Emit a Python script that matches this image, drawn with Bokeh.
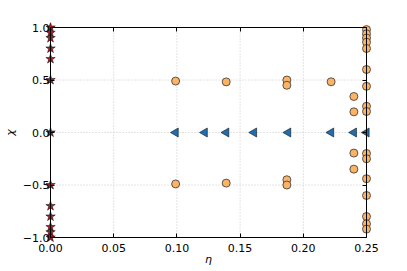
import math
from bokeh.plotting import figure
from bokeh.models import Range1d, FixedTicker, LinearAxis
from bokeh.embed import file_html
from bokeh.resources import INLINE

# ---- data ----
star_eta = [0.0] * 13
star_chi = [1.0, 0.95, 0.9, 0.8, 0.7, 0.5, 0.0, -0.5, -0.7, -0.8, -0.9, -0.95, -1.0]

tri_eta = [0.099, 0.122, 0.139, 0.161, 0.188, 0.222, 0.240, 0.250]
tri_chi = [0.0, 0.0, 0.0, 0.0, 0.0, 0.0, 0.0, 0.0]

circ_eta = [0.099, 0.099, 0.139, 0.139, 0.187, 0.187, 0.187, 0.187, 0.222,
            0.240, 0.240, 0.240, 0.240,
            0.25, 0.25, 0.25, 0.25, 0.25, 0.25, 0.25, 0.25, 0.25,
            0.25, 0.25, 0.25, 0.25, 0.25, 0.25, 0.25]
circ_chi = [0.49, -0.49, 0.482, -0.482, 0.50, 0.45, -0.45, -0.50, 0.483,
            0.343, 0.197, -0.196, -0.349,
            0.98, 0.94, 0.90, 0.86, 0.80, 0.60, 0.44, 0.25, 0.20,
            -0.20, -0.25, -0.44, -0.60, -0.80, -0.87, -0.92]

x_ticks = [0.0, 0.05, 0.10, 0.15, 0.20, 0.25]
x_tick_labels = ["0.00", "0.05", "0.10", "0.15", "0.20", "0.25"]
y_ticks = [-1.0, -0.5, 0.0, 0.5, 1.0]
y_tick_labels = ["\u22121.0", "\u22120.5", "0.0", "0.5", "1.0"]

x_lo, x_hi = 0.0, 0.25
y_lo, y_hi = -1.0, 1.0

# ---- layout ----
PAD = 5
DW, DH = 316, 210
xpad = (x_hi - x_lo) * PAD / DW
ypad = (y_hi - y_lo) * PAD / DH

p = figure(frame_width=DW + 2 * PAD, frame_height=DH + 2 * PAD,
           x_range=Range1d(x_lo - xpad, x_hi + xpad),
           y_range=Range1d(y_lo - ypad, y_hi + ypad),
           output_backend="svg", toolbar_location=None,
           x_axis_label="\u03b7", y_axis_label="\u03c7",
           min_border_left=37, min_border_right=15,
           min_border_top=22, min_border_bottom=10)
p.outline_line_color = None
p.background_fill_color = "white"
p.border_fill_color = "white"
for g in p.grid:
    g.visible = False

FONT = "DejaVu Sans"

# grid lines drawn from tick arrays
grid_style = dict(line_color="#c8c8c8", line_dash="1 2", line_width=1)
p.segment(x0=x_ticks[1:-1], y0=[y_lo] * (len(x_ticks) - 2),
          x1=x_ticks[1:-1], y1=[y_hi] * (len(x_ticks) - 2), **grid_style)
p.segment(x0=[x_lo] * (len(y_ticks) - 2), y0=y_ticks[1:-1],
          x1=[x_hi] * (len(y_ticks) - 2), y1=y_ticks[1:-1], **grid_style)

def style_axis(ax, ticks, labels, standoff=0, show_labels=True):
    ax.ticker = FixedTicker(ticks=ticks)
    ax.major_tick_in = 4 + PAD
    ax.major_tick_out = -PAD
    ax.minor_tick_line_color = None
    ax.axis_line_color = None
    ax.major_tick_line_color = "black"
    ax.major_label_text_font = FONT
    ax.major_label_text_color = "black"
    if show_labels:
        ax.major_label_overrides = {t: l for t, l in zip(ticks, labels)}
        ax.major_label_text_font_size = "11px"
        ax.major_label_standoff = standoff
    else:
        ax.major_label_overrides = {t: "" for t in ticks}
        ax.major_label_text_font_size = "0px"
        ax.major_label_standoff = 0

xa = p.xaxis[0]
style_axis(xa, x_ticks, x_tick_labels, standoff=1)
xa.axis_label_text_font = FONT
xa.axis_label_text_font_size = "11px"
xa.axis_label_text_font_style = "italic"
xa.axis_label_text_color = "black"
xa.axis_label_standoff = -2

ya = p.yaxis[0]
style_axis(ya, y_ticks, y_tick_labels, standoff=-4)
ya.axis_label_text_font = FONT
ya.axis_label_text_font_size = "11px"
ya.axis_label_text_font_style = "italic"
ya.axis_label_text_color = "black"
ya.axis_label_standoff = 3

top = LinearAxis()
style_axis(top, x_ticks, x_tick_labels, show_labels=False)
p.add_layout(top, "above")
right = LinearAxis()
style_axis(right, y_ticks, y_tick_labels, show_labels=False)
p.add_layout(right, "right")

# markers
p.scatter(star_eta, star_chi, marker="star", size=10,
          fill_color="#b3171d", line_color="black", line_width=0.5)
p.scatter(circ_eta, circ_chi, marker="circle", size=8,
          fill_color="#fdb366", line_color="#333333", line_width=0.8)
p.scatter(tri_eta, tri_chi, marker="triangle", size=9, angle=math.pi / 2,
          fill_color="#1f6fb0", line_color="#111111", line_width=0.6)

# axes frame (spines) at the data limits
p.quad(left=[x_lo], right=[x_hi], bottom=[y_lo], top=[y_hi],
       fill_color=None, line_color="black", line_width=1)

open("out.html", "w").write(file_html(p, INLINE))
